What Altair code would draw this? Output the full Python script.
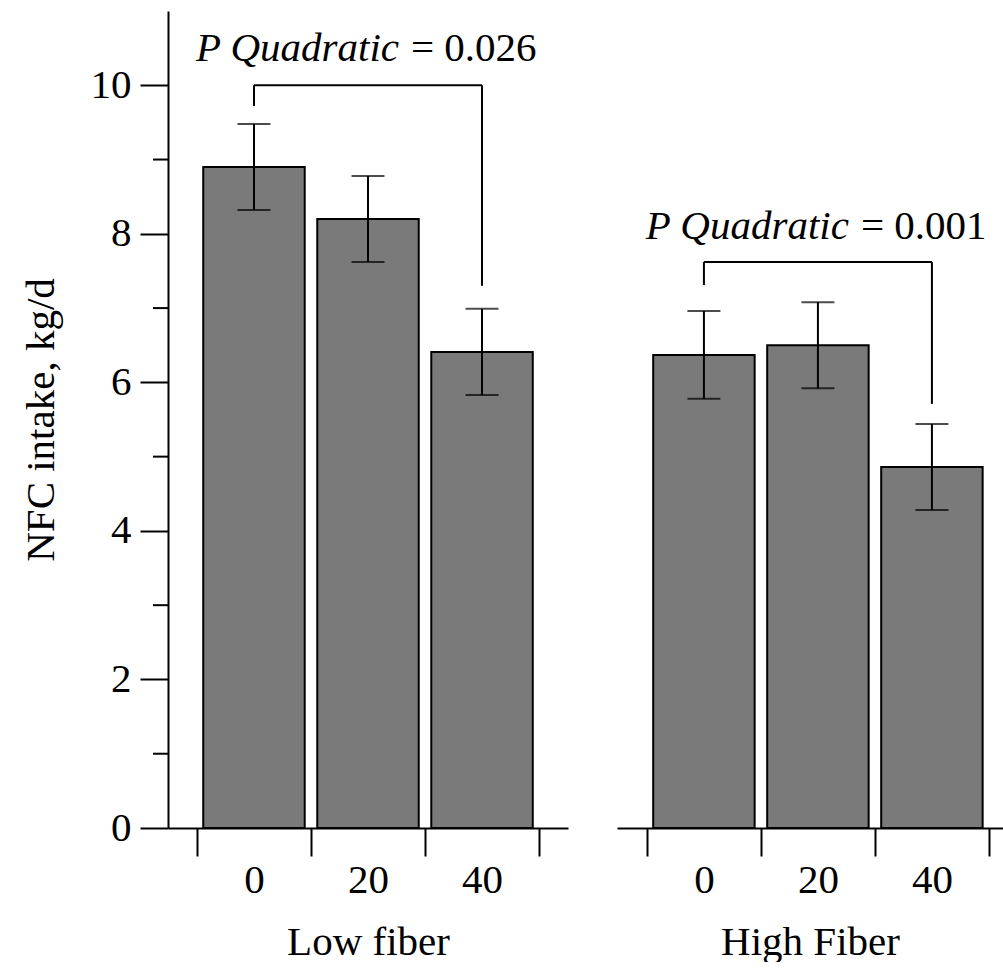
import altair as alt
import pandas as pd

# Dietary inclusion levels on the x axis of each panel
doses = ["0", "20", "40"]

# NFC intake (kg/d), mean and SE per inclusion level
low_fiber_mean = [8.90, 8.20, 6.41]
low_fiber_se = [0.58, 0.58, 0.58]
high_fiber_mean = [6.37, 6.50, 4.86]
high_fiber_se = [0.59, 0.58, 0.58]

panel_titles = ["Low fiber", "High Fiber"]
p_values = ["0.026", "0.001"]

# Significance brackets: [bracket level, left leg end, right leg end]
low_bracket = [10.0, 9.72, 7.30]
high_bracket = [7.62, 7.31, 5.71]

y_major = [0, 2, 4, 6, 8, 10]
y_minor = [1, 3, 5, 7, 9]

FONT = "Liberation Serif, Times New Roman, serif"
FS = 41
BAR_FILL = "#7a7a7a"
Y_MAX = 11
PLOT_H = 817


def make_panel(means, ses, title, p_value, bracket, x_scale, width, show_y, text_dy):
    df = pd.DataFrame({"dose": doses, "mean": means, "se": ses})
    y_scale = alt.Scale(domain=[0, Y_MAX], nice=False, zero=True)
    if show_y:
        y_axis = alt.Axis(
            title="NFC intake, kg/d",
            values=y_major,
            tickSize=28,
            labelPadding=9,
            titlePadding=28,
            titleFontSize=41,
        )
    else:
        y_axis = None

    x_axis = alt.Axis(
        title=title,
        labelAngle=0,
        tickBand="extent",
        tickSize=28,
        labelPadding=4,
        titlePadding=22,
    )

    def X(field="dose"):
        return alt.X(f"{field}:N", sort=doses, scale=x_scale, axis=x_axis)

    def Y(field):
        return alt.Y(f"{field}:Q", scale=y_scale, axis=y_axis)

    base = alt.Chart(df).transform_calculate(
        lo="datum.mean - datum.se", hi="datum.mean + datum.se"
    )

    bars = base.mark_bar(
        fill=BAR_FILL, stroke="black", strokeWidth=2,
        width=alt.RelativeBandSize(0.89),
    ).encode(x=X(), y=Y("mean"))

    err = base.mark_rule(color="black", strokeWidth=2).encode(
        x=X(), y=Y("lo"), y2="hi:Q"
    )
    cap_hi = base.mark_tick(color="black", thickness=2, size=33).encode(x=X(), y=Y("hi"))
    cap_lo = base.mark_tick(color="black", thickness=2, size=33).encode(x=X(), y=Y("lo"))

    level, left_end, right_end = bracket
    span = pd.DataFrame({"start": [doses[0]], "end": [doses[-1]], "level": [level]})
    legs = pd.DataFrame({
        "dose": [doses[0], doses[-1]],
        "level": [level, level],
        "leg_end": [left_end, right_end],
    })
    label = pd.DataFrame({
        "dose": [doses[1]],
        "level": [level],
        "name": ["P Quadratic"],
        "value": [f"= {p_value}"],
    })

    bracket_top = alt.Chart(span).mark_rule(color="black", strokeWidth=2).encode(
        x=X("start"), x2="end:N", y=Y("level")
    )
    bracket_legs = alt.Chart(legs).mark_rule(color="black", strokeWidth=2).encode(
        x=X(), y=Y("level"), y2="leg_end:Q"
    )
    label_italic = alt.Chart(label).mark_text(
        font=FONT, fontSize=FS, fontStyle="italic", align="right",
        baseline="alphabetic", dx=31, dy=text_dy, color="black",
    ).encode(x=X(), y=Y("level"), text="name:N")
    label_value = alt.Chart(label).mark_text(
        font=FONT, fontSize=FS, align="left",
        baseline="alphabetic", dx=43, dy=text_dy, color="black",
    ).encode(x=X(), y=Y("level"), text="value:N")

    layers = [bars, err, cap_hi, cap_lo, bracket_top, bracket_legs, label_italic, label_value]

    if show_y:
        minor = alt.Chart(pd.DataFrame({"v": y_minor})).mark_rule(
            color="black", strokeWidth=2
        ).encode(y=Y("v"), x=alt.value(-15), x2=alt.value(0))
        layers.append(minor)

    return alt.layer(*layers).properties(width=width, height=PLOT_H)


low_panel = make_panel(
    low_fiber_mean, low_fiber_se, panel_titles[0], p_values[0], low_bracket,
    alt.Scale(domain=doses, paddingInner=0, paddingOuter=0.254),
    400, True, -24,
)
high_panel = make_panel(
    high_fiber_mean, high_fiber_se, panel_titles[1], p_values[1], high_bracket,
    alt.Scale(domain=doses, paddingInner=0, paddingOuter=0.193, align=0.68),
    386, False, -23,
)

chart = (
    alt.hconcat(low_panel, high_panel, spacing=49)
    .properties(padding={"left": 20, "top": 11, "right": 0, "bottom": 0}, background="white")
    .configure_view(stroke=None)
    .configure_axis(
        domainColor="black", domainWidth=2,
        tickColor="black", tickWidth=2,
        labelFont=FONT, labelFontSize=FS, labelColor="black",
        titleFont=FONT, titleFontSize=FS, titleFontWeight="normal", titleColor="black",
        grid=False,
    )
)

chart.save("out.html", embed_options={"renderer": "svg", "actions": False})
